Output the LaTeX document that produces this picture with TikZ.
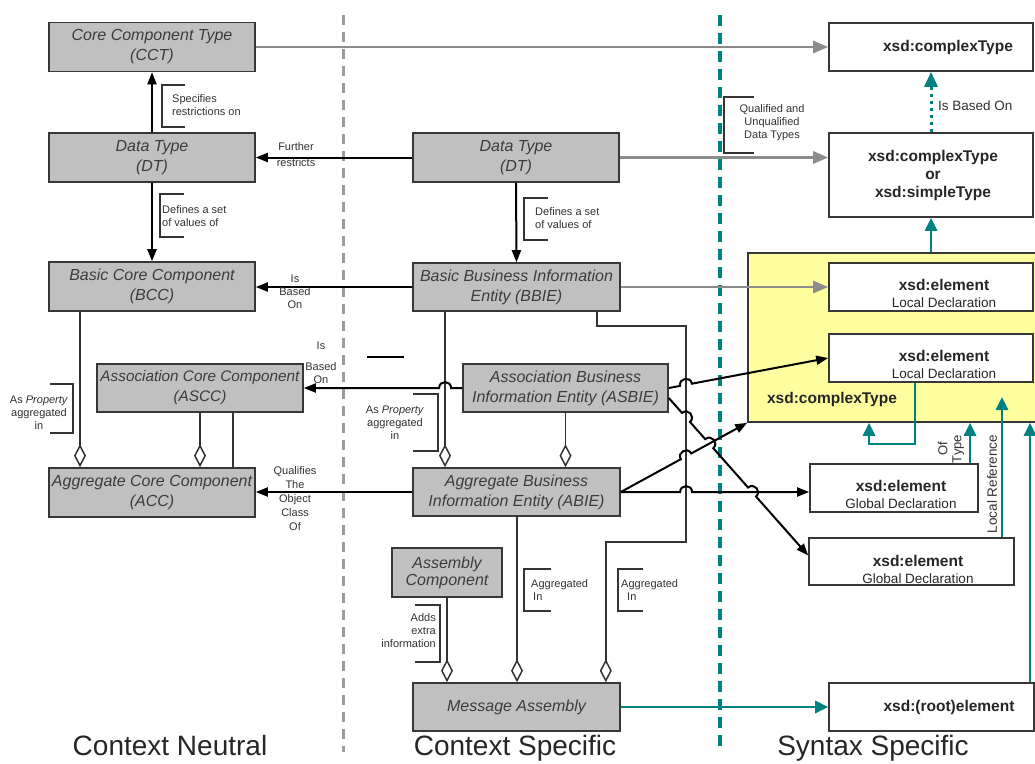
\documentclass[tikz,border=0pt]{standalone}
\usepackage{fontspec}
\setmainfont{Liberation Sans}
\usetikzlibrary{arrows.meta,calc}
\definecolor{boxgray}{RGB}{192,192,192}
\definecolor{boxedge}{RGB}{55,55,55}
\definecolor{boxtext}{RGB}{60,60,60}
\definecolor{lbltext}{RGB}{50,50,50}
\definecolor{arrgray}{RGB}{140,140,140}
\definecolor{dashgray}{RGB}{155,155,155}
\definecolor{tealc}{RGB}{0,130,128}
\definecolor{yel}{RGB}{255,255,160}
\begin{document}
\begin{tikzpicture}[x=1pt,y=-1pt,
  gbox/.style={draw=boxedge, line width=1.6pt, fill=boxgray, text=boxtext, align=center, inner sep=0pt,
    minimum height=49pt, font={\fontsize{16}{20}\selectfont\itshape}},
  xbox/.style={draw=boxedge, line width=1.6pt, fill=white, inner sep=0pt},
  xtext/.style={text=black!85, align=center, inner sep=0pt, font={\fontsize{15.5}{17}\selectfont\bfseries}},
  lbl/.style={text=lbltext, inner sep=0pt, align=center, font={\fontsize{11}{13}\selectfont}},
  tlbl/.style={text=lbltext, inner sep=0pt, align=center, font={\fontsize{13.5}{14}\selectfont}},
  bigl/.style={text=black!85, inner sep=0pt, font={\fontsize{28}{30}\selectfont}},
  brk/.style={draw=black!80, line width=1.2pt},
  blkarr/.style={draw=black, line width=2pt, -{Triangle[length=12pt,width=9pt]}},
  grayarr/.style={draw=arrgray, line width=2.8pt, -{Triangle[length=15pt,width=12pt]}},
  tealarr/.style={draw=tealc, line width=2.8pt, -{Triangle[length=13pt,width=12pt]}},
  tealdot/.style={draw=tealc, line width=3pt, dash pattern=on 3pt off 4pt, -{Triangle[length=15pt,width=13pt]}},
  aggr/.style={draw=black!80, line width=1.5pt, -{Diamond[fill=white,length=23pt,width=12pt]}},
  plainln/.style={draw=black!80, line width=1.5pt},
  jumpl/.style={bend left=90, looseness=1.7},
  jumpr/.style={bend right=90, looseness=1.7}]
\useasboundingbox (0,0) rectangle (1035,763);
\fill[white] (0,0) rectangle (1035,763);

% region separators
\draw[dashgray, line width=3pt, dash pattern=on 10pt off 7pt] (343,15) -- (343,752);
\draw[tealc, line width=4pt, dash pattern=on 11pt off 7pt] (720,15) -- (720,752);

% yellow complexType container
\node[draw=boxedge, line width=1.6pt, fill=yel, minimum width=297pt, minimum height=169pt, inner sep=0pt] (yel) at (896.5,337.5) {};
\node[xtext] (yelt) at (832,399) {xsd:complexType};

% context neutral
\node[gbox, minimum width=206pt] (cct) at (152,47) {Core Component Type\\(CCT)};
\node[gbox, minimum width=206pt] (dtl) at (152,157.5) {Data Type\\(DT)};
\node[gbox, minimum width=206pt] (bcc) at (152,286.5) {Basic Core Component\\(BCC)};
\node[gbox, minimum width=206pt, minimum height=48pt, font={\fontsize{15.3}{20}\selectfont\itshape}] (ascc) at (200,388) {Association Core Component\\(ASCC)};
\node[gbox, minimum width=206pt] (acc) at (152,492.5) {Aggregate Core Component\\(ACC)};

% context specific
\node[gbox, minimum width=206pt] (dtm) at (516,157.5) {Data Type\\(DT)};
\node[gbox, minimum width=207pt, minimum height=48pt] (bbie) at (516.5,287) {Basic Business Information\\Entity (BBIE)};
\node[gbox, minimum width=205pt, minimum height=48pt] (asbie) at (565.5,388) {Association Business\\Information Entity (ASBIE)};
\node[gbox, minimum width=207pt, minimum height=48pt] (abie) at (516.5,492) {Aggregate Business\\Information Entity (ABIE)};
\node[gbox, minimum width=110pt, font={\fontsize{16}{17}\selectfont\itshape}] (asm) at (447,572.5) {Assembly\\Component};
\node[gbox, minimum width=207pt, minimum height=48pt] (ma) at (516.5,707) {Message Assembly};

% syntax specific
\node[xbox, minimum width=204pt, minimum height=48pt] (xct) at (931,47) {};
\node[xtext] (xctt) at (948,47) {xsd:complexType};
\node[xbox, minimum width=204pt, minimum height=84pt] (xcs) at (931,175) {};
\node[xtext, font={\fontsize{15.5}{18}\selectfont\bfseries}] (xcst) at (933,175) {xsd:complexType\\or\\xsd:simpleType};
\node[xbox, minimum width=204pt, minimum height=48pt] (el1) at (931,287) {};
\node[xtext] (el1t) at (944,293) {xsd:element\\{\fontsize{13.5}{14}\selectfont\mdseries Local Declaration}};
\node[xbox, minimum width=204pt, minimum height=48pt] (el2) at (931,358) {};
\node[xtext] (el2t) at (944,364) {xsd:element\\{\fontsize{13.5}{14}\selectfont\mdseries Local Declaration}};
\node[xbox, minimum width=168pt, minimum height=48pt] (gd1) at (894,488) {};
\node[xtext] (gd1t) at (901,494) {xsd:element\\{\fontsize{13.5}{14}\selectfont\mdseries Global Declaration}};
\node[xbox, minimum width=205pt, minimum height=47pt] (gd2) at (911.5,561.5) {};
\node[xtext] (gd2t) at (918,569) {xsd:element\\{\fontsize{13.5}{14}\selectfont\mdseries Global Declaration}};
\node[xbox, minimum width=205pt, minimum height=48pt] (root) at (931.5,707) {};
\node[xtext] (roott) at (949,707) {xsd:(root)element};

% helper coordinates
\coordinate (vtop) at (686,326);
\coordinate (vbot) at (686,542);
\coordinate (bv1) at ([xshift=-71.5pt]bbie.south);
\coordinate (bv2) at ([xshift=-71.5pt]abie.north);
\coordinate (a2s) at ([yshift=-10pt]asbie.east);
\coordinate (a2e) at ([yshift=6pt]gd2.west);
\coordinate (gd1w) at (abie.east -| gd1.west);
\coordinate (c0) at (intersection of asbie.west--ascc.east and bv1--bv2);
\coordinate (c1) at (intersection of asbie.east--el2.west and vtop--vbot);
\coordinate (c2) at (intersection of a2s--a2e and vtop--vbot);
\coordinate (c3) at (intersection of a2s--a2e and abie.east--yel.south west);
\coordinate (c4) at (intersection of a2s--a2e and abie.east--gd1w);
\coordinate (c5) at (intersection of abie.east--yel.south west and vtop--vbot);
\coordinate (c6) at (intersection of abie.east--gd1w and vtop--vbot);

% gray arrows
\draw[grayarr] (cct.east) -- (xct.west);
\draw[grayarr] (dtm.east) -- (dtm.east -| xcs.west);
\draw[grayarr] (bbie.east) -- (el1.west);

% black arrows
\draw[blkarr] (dtl.north) -- (cct.south);
\draw[blkarr] (dtl.south) -- (bcc.north);
\draw[blkarr] (dtm.west) -- (dtl.east);
\draw[blkarr] (dtm.south) -- (bbie.north);
\draw[blkarr] (bbie.west) -- (bbie.west -| bcc.east);
\draw[blkarr] (abie.west) -- (abie.west -| acc.east);

% aggregations
\draw[aggr] ([xshift=-72pt]bcc.south) -- ([xshift=-72pt]acc.north);
\draw[aggr] (ascc.south) -- (ascc.south |- acc.north);
\draw[plainln] ([xshift=33pt]ascc.south) -- ([xshift=81pt]acc.north);
\draw[aggr] (bv1) -- (bv2);
\draw[aggr] (asbie.south) -- (asbie.south |- abie.north);
\draw[aggr] (asm.south) -- (asm.south |- ma.north);
\draw[aggr] ([xshift=0.5pt]abie.south) -- ([xshift=0.5pt]ma.north);
\draw[aggr] ([xshift=-24pt]bbie.south east) |- (vtop) -- (vbot) -| ([xshift=-15pt]ma.north east);

% lines with jumps
\draw[blkarr] (asbie.west) -- ($(c0)!6pt!(asbie.west)$) to[jumpr] ($(c0)!6pt!(ascc.east)$) -- (ascc.east);
\draw[blkarr] (asbie.east) -- ($(c1)!6pt!(asbie.east)$) to[jumpl] ($(c1)!6pt!(el2.west)$) -- (el2.west);
\draw[blkarr] (a2s) -- ($(c2)!6pt!(a2s)$) to[jumpl] ($(c2)!6pt!(a2e)$)
   -- ($(c3)!6pt!(a2s)$) to[jumpl] ($(c3)!6pt!(a2e)$)
   -- ($(c4)!6pt!(a2s)$) to[jumpl] ($(c4)!6pt!(a2e)$) -- (a2e);
\draw[blkarr] (abie.east) -- ($(c5)!6pt!(abie.east)$) to[jumpl] ($(c5)!6pt!(yel.south west)$) -- (yel.south west);
\draw[blkarr] (abie.east) -- ($(c6)!6pt!(abie.east)$) to[jumpl] ($(c6)!6pt!(gd1w)$) -- (gd1w);

% teal connectors
\draw[tealarr] (xcs.south |- yel.north) -- (xcs.south);
\draw[tealdot] (xcs.north) -- (xct.south);
\draw[tealarr] ([xshift=-16pt]el2.south) |- (869,444) -- (869,0 |- yel.south);
\draw[tealarr] (970,0 |- gd1.north) -- (970,0 |- yel.south);
\draw[tealarr] (1002,0 |- gd2.north) -- (1002,397);
\draw[tealarr] (1030,0 |- root.north) -- (1030,0 |- yel.south);
\draw[tealarr] (ma.east) -- (root.west);

% brackets and labels
\draw[brk] (185,85) -- (162,85) -- (162,127) -- (185,127);
\node[lbl, anchor=west, align=left] (l1) at (172,105) {Specifies\\restrictions on};
\draw[brk] (184,194) -- (160,194) -- (160,237) -- (184,237);
\node[lbl, anchor=west, align=left] (l2) at (162,216) {Defines a set\\of values of};
\draw[brk] (548,198) -- (524,198) -- (524,240) -- (548,240);
\node[lbl, anchor=west, align=left] (l3) at (535,218) {Defines a set\\of values of};
\draw[brk] (754,97) -- (724,97) -- (724,153) -- (754,153);
\node[lbl] (l4) at (772,123) {Qualified and\\Unqualified\\Data Types};
\draw[brk] (50,384) -- (73,384) -- (73,433) -- (50,433);
\node[lbl] (l5) at (39,413) {As \textit{Property}\\aggregated\\in};
\draw[brk] (413,394) -- (438,394) -- (438,451) -- (413,451);
\node[lbl] (l6) at (395,423) {As \textit{Property}\\aggregated\\in};
\draw[brk] (415,605) -- (440,605) -- (440,662) -- (415,662);
\node[lbl, anchor=east, align=right] (l7) at (436,631) {Adds\\extra\\information};
\draw[brk] (551,569) -- (524,569) -- (524,611) -- (551,611);
\node[lbl, anchor=west, align=left] (l8) at (531,590) {Aggregated\\\hspace{2pt}In};
\draw[brk] (643,569) -- (618,569) -- (618,611) -- (643,611);
\node[lbl, anchor=west, align=left] (l9) at (621,590) {Aggregated\\\hspace{6pt}In};
\node[lbl] (l10) at (296,155) {Further\\[3pt]restricts};
\node[lbl] (l11) at (295,292) {Is\\Based\\On};
\node[lbl] (l12) at (321,363) {Is\\[8pt]Based\\On};
\node[lbl, font={\fontsize{11}{14}\selectfont}] (l13) at (295,499) {Qualifies\\The\\Object\\Class\\Of};
\draw[line width=1.2pt] (367,357) -- (404,357);

\node[tlbl, anchor=west] (l14) at (938,106) {Is Based On};
\node[tlbl, rotate=90, font={\fontsize{13}{14}\selectfont}] (l15) at (951,449) {Of\\Type};
\node[tlbl, rotate=90] (l16) at (992,484) {Local Reference};

% column captions
\node[bigl, anchor=base] (cn) at (170,755) {Context Neutral};
\node[bigl, anchor=base] (cs) at (515,755) {Context Specific};
\node[bigl, anchor=base] (ss) at (873,755) {Syntax Specific};
\end{tikzpicture}
\end{document}
